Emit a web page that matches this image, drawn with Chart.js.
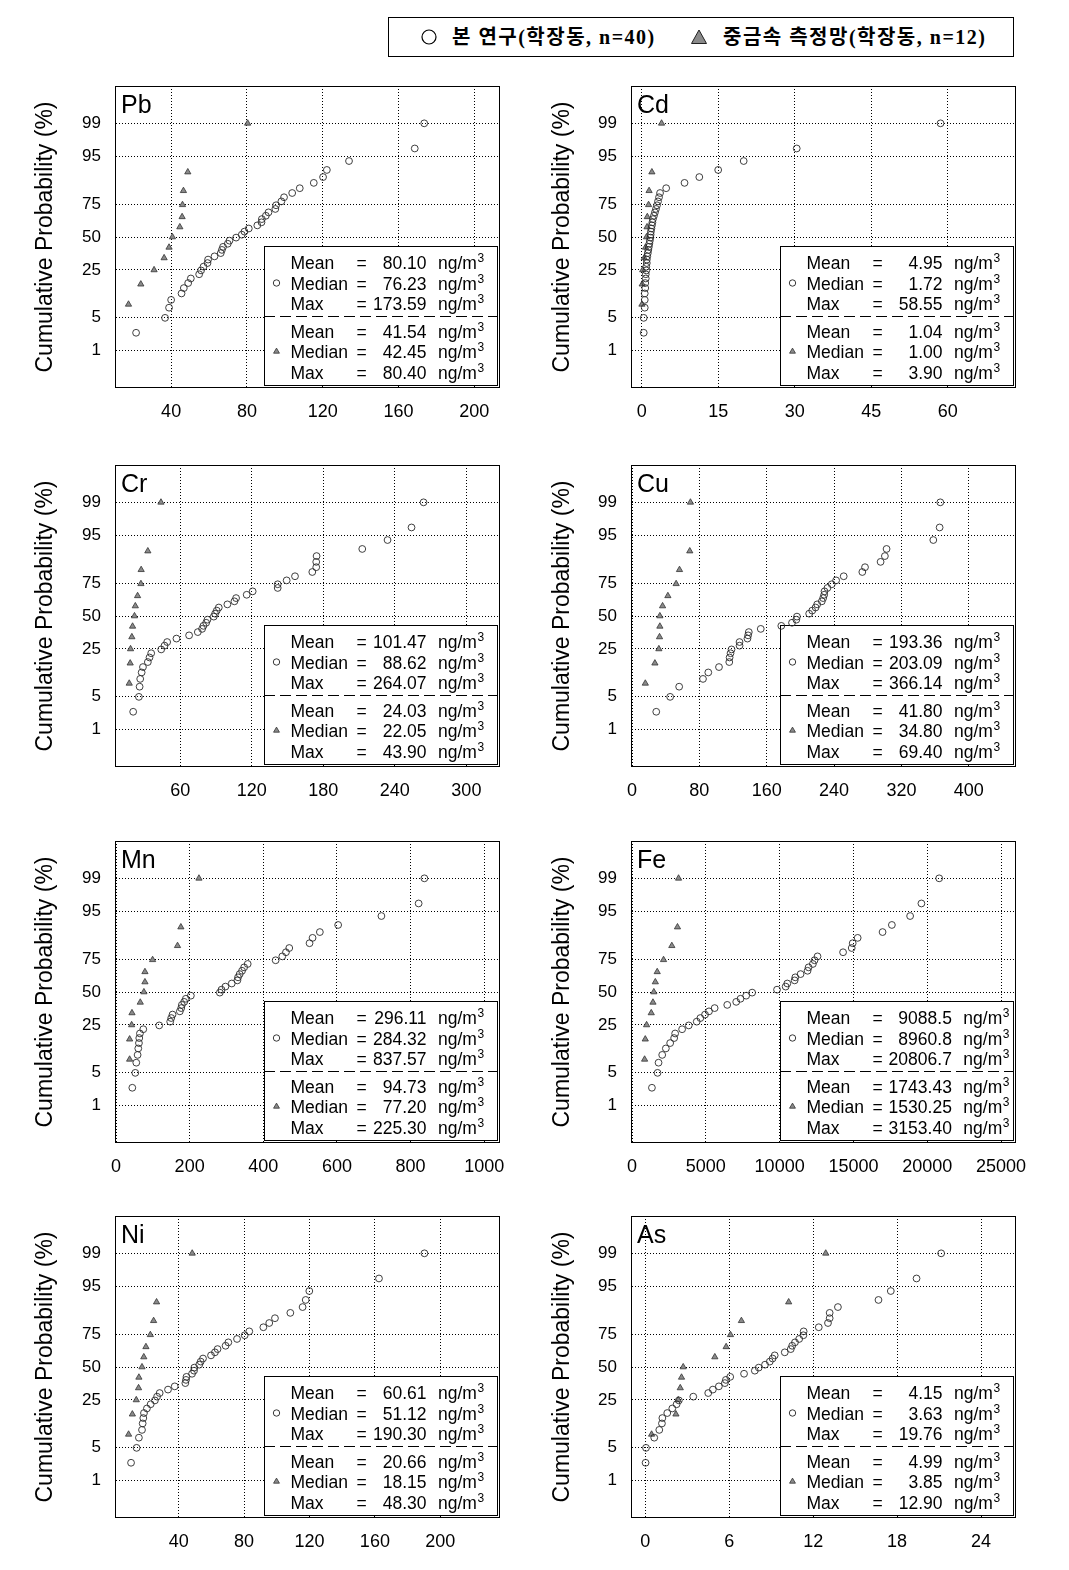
<!DOCTYPE html>
<html lang="ko">
<head>
<meta charset="utf-8">
<title>Cumulative probability plots of heavy metals</title>
<script src="https://cdn.jsdelivr.net/npm/chart.js@4.4.1/dist/chart.umd.min.js"></script>
<style>
html,body{margin:0;padding:0;background:#fff;}
body{width:1069px;height:1570px;position:relative;overflow:hidden;font-family:Arial,"Liberation Sans",sans-serif;}
canvas{position:absolute;}
#legend{position:absolute;left:388px;top:17px;width:626px;height:40px;border:1px solid #000;box-sizing:border-box;font-family:"Liberation Serif","Times New Roman","Noto Sans CJK KR",serif;font-size:20px;font-weight:bold;color:#000;}
#legend .li{position:absolute;top:0;height:38px;line-height:38px;white-space:nowrap;letter-spacing:1.5px;}
#legend svg{position:absolute;}
</style>
</head>
<body>
<div id="legend">
  <svg style="left:31px;top:10px" width="18" height="18"><circle cx="9" cy="9" r="7" fill="none" stroke="#000" stroke-width="1.2"/></svg>
  <span class="li" style="left:63px">본 연구(학장동, n=40)</span>
  <svg style="left:301px;top:10px" width="18" height="18"><polygon points="9,2 16.5,15.5 1.5,15.5" fill="#8a8a8a" stroke="#222" stroke-width="1"/></svg>
  <span class="li" style="left:334px">중금속 측정망(학장동, n=12)</span>
</div>
<script>
// ---------- data ----------
const yTickLabels = [1, 5, 25, 50, 75, 95, 99];
// cumulative probability (%) of ranked points
const probStudy = [2.5, 4.9, 7.4, 9.9, 12.4, 14.8, 17.3, 19.8, 22.3, 24.7, 27.2, 29.7, 32.2, 34.6, 37.1, 39.6, 42.0, 44.5, 47.0, 49.5,
                   51.9, 54.4, 56.9, 59.4, 61.8, 64.3, 66.8, 69.3, 71.7, 74.2, 76.7, 79.2, 81.6, 84.1, 86.6, 89.0, 91.5, 94.0, 96.5, 99.0];
const probNetwork = [8.4, 16.7, 25.0, 33.4, 41.6, 50.0, 58.1, 66.0, 74.5, 82.8, 90.8, 99.0];
const statLabels = ['Mean', 'Median', 'Max'];

const pbStudy = [21.5, 36.8, 38.9, 40.0, 45.5, 46.7, 49.0, 50.4, 54.8, 55.8, 57.1, 59.2, 59.5, 62.9, 66.2, 66.8, 67.4, 69.9, 70.8, 74.3,
                 77.3, 78.7, 81.0, 85.5, 87.7, 87.9, 90.0, 91.4, 95.0, 95.4, 98.2, 99.6, 103.9, 107.9, 115.3, 120.2, 122.2, 133.9, 168.6, 173.6];
const pbNetwork = [17.5, 24.0, 31.0, 36.3, 38.9, 40.7, 44.6, 45.8, 46.0, 46.5, 48.8, 80.4];
const pbStats = ['80.10', '76.23', '173.59', '41.54', '42.45', '80.40'];
const pbTicks = [40, 80, 120, 160, 200];
const pbRange = [10.9, 213.6];

const cdStudy = [0.4, 0.4, 0.6, 0.6, 0.6, 0.7, 0.7, 0.8, 0.8, 0.9, 0.9, 1.0, 1.0, 1.1, 1.2, 1.3, 1.4, 1.5, 1.6, 1.7,
                 1.75, 1.8, 1.9, 2.0, 2.1, 2.2, 2.4, 2.6, 2.8, 3.0, 3.2, 3.4, 3.6, 4.8, 8.4, 11.3, 15.0, 20.0, 30.4, 58.6];
const cdNetwork = [0.05, 0.1, 0.2, 0.5, 0.75, 0.95, 1.05, 1.1, 1.35, 1.45, 2.0, 3.9];
const cdStats = ['4.95', '1.72', '58.55', '1.04', '1.00', '3.90'];
const cdTicks = [0, 15, 30, 45, 60];
const cdRange = [-1.9, 73.4];

const crStudy = [20.6, 25.4, 26.0, 26.5, 27.7, 28.8, 32.9, 34.3, 35.7, 44.1, 46.9, 49.1, 56.9, 67.5, 74.8, 78.4, 79.5, 81.8, 82.9, 88.2,
                 89.3, 90.7, 92.4, 99.6, 105.5, 106.9, 115.8, 120.8, 141.8, 141.8, 149.3, 156.3, 170.8, 174.1, 174.1, 174.4, 212.7, 233.9, 254.0, 264.1];
const crNetwork = [17.3, 18.1, 18.4, 19.5, 20.1, 21.7, 22.4, 24.3, 27.1, 27.3, 32.9, 43.9];
const crStats = ['101.47', '88.62', '264.07', '24.03', '22.05', '43.90'];
const crTicks = [60, 120, 180, 240, 300];
const crRange = [6.2, 328.2];

const cuStudy = [28.8, 45.3, 56.0, 84.3, 90.6, 103.3, 115.5, 115.9, 117.0, 118.2, 127.7, 127.7, 137.1, 137.9, 138.7, 152.9, 177.3, 190.0, 195.1, 195.9,
                 210.4, 214.0, 218.0, 219.9, 225.4, 227.0, 228.2, 228.6, 232.1, 237.2, 242.4, 251.4, 273.5, 276.7, 295.2, 300.3, 302.3, 357.8, 365.3, 366.1];
const cuNetwork = [15.8, 27.2, 31.9, 32.7, 33.1, 33.1, 36.3, 42.6, 52.4, 56.4, 68.6, 69.4];
const cuStats = ['193.36', '203.09', '366.14', '41.80', '34.80', '69.40'];
const cuTicks = [0, 80, 160, 240, 320, 400];
const cuRange = [0, 456];

const mnStudy = [44.3, 52.4, 55.1, 58.7, 60.5, 62.3, 63.2, 65.0, 74.1, 117.4, 147.2, 150.0, 153.6, 173.4, 177.1, 178.9, 185.2, 189.7, 203.3, 282.0,
                 286.6, 297.2, 314.4, 329.7, 331.5, 336.0, 342.4, 348.0, 357.7, 433.6, 451.7, 461.6, 470.6, 525.7, 533.9, 553.7, 603.4, 720.9, 822.0, 837.6];
const mnNetwork = [37.0, 37.0, 42.5, 43.4, 65.9, 75.8, 78.6, 78.6, 99.4, 167.1, 176.2, 225.3];
const mnStats = ['296.11', '284.32', '837.57', '94.73', '77.20', '225.30'];
const mnTicks = [0, 200, 400, 600, 800, 1000];
const mnRange = [0, 1043];

const feStudy = [1349, 1731, 1798, 2046, 2293, 2585, 2855, 2922, 3394, 3844, 4384, 4631, 4946, 5215, 5598, 6452, 7059, 7351, 7733, 8138,
                 9824, 10408, 10520, 11015, 11060, 11420, 11892, 11960, 12252, 12364, 12566, 14297, 14882, 14949, 15286, 16972, 17602, 18838, 19603, 20807];
const feNetwork = [854, 899, 989, 1304, 1420, 1480, 1580, 1708, 2136, 2698, 3080, 3153];
const feStats = ['9088.5', '8960.8', '20806.7', '1743.43', '1530.25', '3153.40'];
const feTicks = [0, 5000, 10000, 15000, 20000, 25000];
const feRange = [0, 26010];

const niStudy = [10.9, 14.3, 15.7, 17.6, 18.0, 18.4, 18.8, 20.6, 22.9, 25.5, 26.8, 28.4, 33.5, 37.6, 44.1, 44.5, 44.8, 48.2, 49.4, 49.6,
                 52.6, 53.5, 54.9, 59.8, 62.2, 63.8, 68.7, 70.4, 75.7, 80.4, 83.2, 91.8, 95.4, 98.9, 108.3, 115.8, 117.7, 119.9, 162.5, 190.3];
const niNetwork = [9.4, 11.7, 14.1, 15.5, 15.7, 17.6, 18.7, 20.0, 22.7, 24.7, 26.5, 48.3];
const niStats = ['60.61', '51.12', '190.30', '20.66', '18.15', '48.30'];
const niTicks = [40, 80, 120, 160, 200];
const niRange = [1.7, 236.5];

const asStudy = [0.02, 0.05, 0.64, 1.0, 1.19, 1.22, 1.57, 1.93, 2.24, 2.40, 3.43, 4.50, 4.83, 5.26, 5.69, 5.76, 6.07, 7.06, 7.83, 8.11,
                 8.56, 8.90, 9.10, 9.25, 9.97, 10.4, 10.5, 10.7, 11.0, 11.3, 11.32, 12.4, 13.06, 13.18, 13.18, 13.77, 16.67, 17.55, 19.39, 21.15];
const asNetwork = [0.45, 2.19, 2.35, 2.50, 2.59, 2.71, 4.97, 5.78, 6.09, 6.87, 10.25, 12.9];
const asStats = ['4.15', '3.63', '19.76', '4.99', '3.85', '12.90'];
const asTicks = [0, 6, 12, 18, 24];
const asRange = [-0.95, 26.5];

const panelNames = ['Pb', 'Cd', 'Cr', 'Cu', 'Mn', 'Fe', 'Ni', 'As'];
const studySeries = [pbStudy, cdStudy, crStudy, cuStudy, mnStudy, feStudy, niStudy, asStudy];
const networkSeries = [pbNetwork, cdNetwork, crNetwork, cuNetwork, mnNetwork, feNetwork, niNetwork, asNetwork];
const statSeries = [pbStats, cdStats, crStats, cuStats, mnStats, feStats, niStats, asStats];
const tickSeries = [pbTicks, cdTicks, crTicks, cuTicks, mnTicks, feTicks, niTicks, asTicks];
const rangeSeries = [pbRange, cdRange, crRange, cuRange, mnRange, feRange, niRange, asRange];

// ---------- probit transform (inverse standard normal CDF) ----------
function qnorm(p) {
  const a = [-3.969683028665376e+01, 2.209460984245205e+02, -2.759285104469687e+02, 1.383577518672690e+02, -3.066479806614716e+01, 2.506628277459239e+00];
  const b = [-5.447609879822406e+01, 1.615858368580409e+02, -1.556989798598866e+02, 6.680131188771972e+01, -1.328068155288572e+01];
  const c = [-7.784894002430293e-03, -3.223964580411365e-01, -2.400758277161838e+00, -2.549671348283473e+00, 4.374664141464968e+00, 2.938163982698783e+00];
  const d = [7.784695709041462e-03, 3.224671290700398e-01, 2.445134137142996e+00, 3.754408661907416e+00];
  const pl = 0.02425, ph = 1 - pl;
  let q, r;
  if (p < pl) {
    q = Math.sqrt(-2 * Math.log(p));
    return (((((c[0]*q+c[1])*q+c[2])*q+c[3])*q+c[4])*q+c[5]) / ((((d[0]*q+d[1])*q+d[2])*q+d[3])*q+1);
  }
  if (p <= ph) {
    q = p - 0.5; r = q * q;
    return (((((a[0]*r+a[1])*r+a[2])*r+a[3])*r+a[4])*r+a[5])*q / (((((b[0]*r+b[1])*r+b[2])*r+b[3])*r+b[4])*r+1);
  }
  q = Math.sqrt(-2 * Math.log(1 - p));
  return -(((((c[0]*q+c[1])*q+c[2])*q+c[3])*q+c[4])*q+c[5]) / ((((d[0]*q+d[1])*q+d[2])*q+d[3])*q+1);
}

// ---------- drawing ----------
const FONT = 'Arial, "Liberation Sans", sans-serif';
Chart.defaults.font.family = FONT;
Chart.defaults.color = '#000';

const decor = {
  id: 'panelDecor',
  beforeDatasetsDraw(chart, args, opts) {
    const ctx = chart.ctx, a = chart.chartArea;
    const BR = Math.round(a.right) - 3, BB = Math.round(a.bottom) - 3, BW = 233, BH = 139;
    const BL = BR - BW, BT = BB - BH;
    ctx.save();
    ctx.fillStyle = '#fff';
    ctx.fillRect(BL, BT, BW, BH);
    ctx.strokeStyle = '#000';
    ctx.lineWidth = 1;
    ctx.strokeRect(BL + 0.5, BT + 0.5, BW, BH);
    ctx.setLineDash([11, 5]);
    ctx.beginPath();
    ctx.moveTo(BL, BT + 70.5);
    ctx.lineTo(BR, BT + 70.5);
    ctx.stroke();
    ctx.setLineDash([]);

    const rowsY = [16.5, 37, 57.5, 85, 105.5, 126];
    const stats = opts.stats;
    const main = '17.5px ' + FONT;
    ctx.font = main;
    ctx.fillStyle = '#000';
    ctx.textBaseline = 'alphabetic';
    const eqX = BR - 135.5;
    const eqW = ctx.measureText('=').width;
    let maxW = 0;
    stats.forEach(s => { maxW = Math.max(maxW, ctx.measureText(s).width); });
    const valR = Math.max(BR - 70.5, eqX + eqW / 2 + 6 + maxW);
    const unitW = ctx.measureText('ng/m').width;
    for (let i = 0; i < 6; i++) {
      const y = BT + rowsY[i] + 6.5;
      ctx.font = main;
      ctx.textAlign = 'left';
      ctx.fillText(statLabels[i % 3], BR - 206.5, y);
      ctx.textAlign = 'center';
      ctx.fillText('=', eqX, y);
      ctx.textAlign = 'right';
      ctx.fillText(stats[i], valR, y);
      ctx.textAlign = 'left';
      ctx.fillText('ng/m', valR + 11.5, y);
      ctx.font = '12px ' + FONT;
      ctx.fillText('3', valR + 11.5 + unitW + 0.5, y - 7);
    }
    // series symbols
    const sx = BR - 220.5;
    ctx.lineWidth = 0.9;
    ctx.strokeStyle = '#222';
    ctx.beginPath();
    ctx.arc(sx, BT + rowsY[1], 3.2, 0, Math.PI * 2);
    ctx.stroke();
    const ty = BT + rowsY[4], r = 3.4;
    ctx.beginPath();
    ctx.moveTo(sx, ty - r);
    ctx.lineTo(sx + r * 0.866, ty + r * 0.5);
    ctx.lineTo(sx - r * 0.866, ty + r * 0.5);
    ctx.closePath();
    ctx.fillStyle = '#8a8a8a';
    ctx.fill();
    ctx.strokeStyle = '#333';
    ctx.lineWidth = 0.8;
    ctx.stroke();
    ctx.restore();
  },
  afterDatasetsDraw(chart, args, opts) {
    const ctx = chart.ctx, a = chart.chartArea;
    ctx.save();
    ctx.strokeStyle = '#000';
    ctx.lineWidth = 1;
    const L = Math.round(a.left) - 0.5, T = Math.round(a.top) + 0.5;
    ctx.strokeRect(L, T, Math.round(a.right) - Math.round(a.left), Math.round(a.bottom) - Math.round(a.top) - 1);
    ctx.font = '25px ' + FONT;
    ctx.fillStyle = '#000';
    ctx.textAlign = 'left';
    ctx.textBaseline = 'alphabetic';
    ctx.fillText(opts.name, a.left + 5, a.top + 27);
    ctx.restore();
  }
};

const rowTops = [60, 439, 815, 1190];
panelNames.forEach((name, k) => {
  const col = k % 2, row = Math.floor(k / 2);
  const cv = document.createElement('canvas');
  const W = col === 0 ? 520 : 549;
  const H = 386;
  cv.width = W; cv.height = H;
  cv.style.left = (col === 0 ? 0 : 520) + 'px';
  cv.style.top = rowTops[row] + 'px';
  cv.style.width = W + 'px'; cv.style.height = H + 'px';
  document.body.appendChild(cv);
  const yW = col === 0 ? 116 : 112;
  const padR = W - yW - 384;
  const titlePad = col === 0 ? 32 : 29;
  const study = studySeries[k], network = networkSeries[k];
  const xt = tickSeries[k];
  new Chart(cv, {
    type: 'scatter',
    data: {
      datasets: [
        {
          label: '본 연구(학장동, n=40)',
          data: study.map((v, i) => ({ x: v, y: qnorm(probStudy[i] / 100) })),
          pointStyle: 'circle', pointRadius: 3.4, pointBorderWidth: 0.9,
          borderColor: '#2a2a2a', backgroundColor: 'rgba(0,0,0,0)'
        },
        {
          label: '중금속 측정망(학장동, n=12)',
          data: network.map((v, i) => ({ x: v, y: qnorm(probNetwork[i] / 100) })),
          pointStyle: 'triangle', pointRadius: 3.6, pointBorderWidth: 0.8,
          borderColor: '#333', backgroundColor: '#8a8a8a'
        }
      ]
    },
    options: {
      responsive: false, animation: false, devicePixelRatio: 1,
      layout: { padding: { top: 26, bottom: 18, left: 0, right: padR } },
      plugins: {
        legend: { display: false }, tooltip: { enabled: false },
        panelDecor: { name: name, stats: statSeries[k] }
      },
      scales: {
        x: {
          type: 'linear', min: rangeSeries[k][0], max: rangeSeries[k][1],
          afterBuildTicks: s => { s.ticks = xt.map(v => ({ value: v })); },
          afterFit: s => { s.height = 40; },
          grid: { color: '#000', lineWidth: 1, drawTicks: false },
          border: { display: false, dash: [1, 2] },
          ticks: { autoSkip: false, maxRotation: 0, padding: 13, color: '#000', font: { size: 18 }, callback: v => String(v) }
        },
        y: {
          type: 'linear', min: qnorm(0.001), max: qnorm(0.999),
          afterBuildTicks: s => { s.ticks = yTickLabels.map(p => ({ value: qnorm(p / 100) })); },
          afterFit: s => { s.width = yW; },
          grid: { color: '#000', lineWidth: 1, drawTicks: false },
          border: { display: false, dash: [1, 2] },
          ticks: { autoSkip: false, padding: 15, color: '#000', font: { size: 17 }, callback: (v, i) => String(yTickLabels[i]) },
          title: { display: true, text: 'Cumulative Probability (%)', color: '#000', font: { size: 23 }, padding: { top: titlePad, bottom: 0 } }
        }
      }
    },
    plugins: [decor]
  });
});
</script>
</body>
</html>
